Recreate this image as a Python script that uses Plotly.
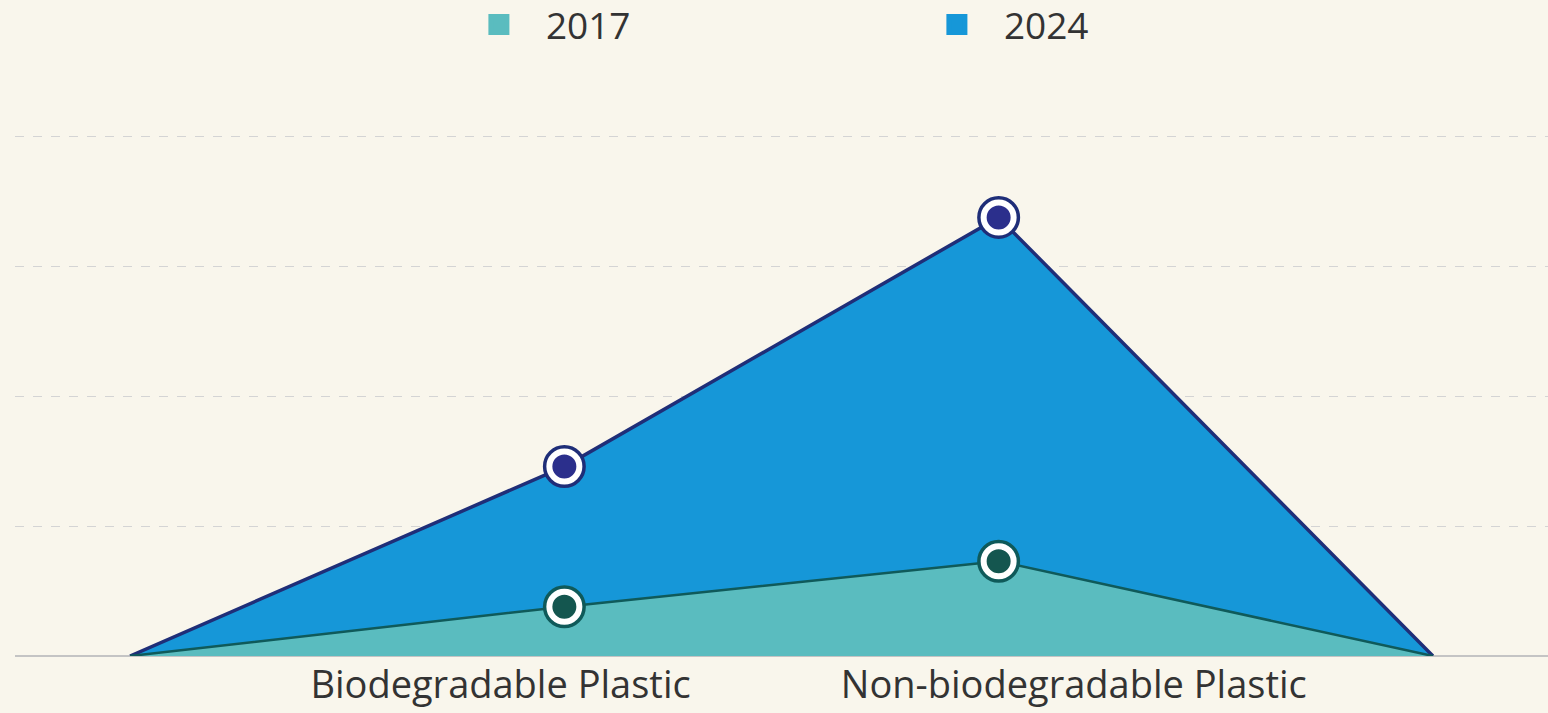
import plotly.graph_objects as go

x_pos = [0, 1, 2, 3]
tick_labels = ["Biodegradable Plastic", "Non-biodegradable Plastic"]
series_names = ["2017", "2024"]
values_2017 = [0, 0.38, 0.73, 0]
values_2024 = [0, 1.46, 3.38, 0]

fill_2017 = "#5abcbf"
line_2017 = "#0f5a5a"
dot_2017 = "#14564f"
fill_2024 = "#1697d8"
line_2024 = "#1f2e78"
dot_2024 = "#2b2f8c"
bg = "#f9f6ec"

fig = go.Figure()

# legend entries
fig.add_trace(go.Scatter(x=[None], y=[None], mode="markers", name=series_names[0],
                         marker=dict(symbol="square", size=16, color=fill_2017,
                                     line=dict(color=fill_2017, width=5))))
fig.add_trace(go.Scatter(x=[None], y=[None], mode="markers", name=series_names[1],
                         marker=dict(symbol="square", size=16, color=fill_2024,
                                     line=dict(color=fill_2024, width=5))))

# areas
fig.add_trace(go.Scatter(x=x_pos, y=values_2024, mode="lines", fill="tozeroy",
                         fillcolor=fill_2024, line=dict(color=line_2024, width=3.5),
                         showlegend=False, hoverinfo="skip"))
fig.add_trace(go.Scatter(x=x_pos, y=values_2017, mode="lines", fill="tozeroy",
                         fillcolor=fill_2017, line=dict(color=line_2017, width=2.5),
                         showlegend=False, hoverinfo="skip"))

# markers on the middle points
for vals, ring, dot in [(values_2024, line_2024, dot_2024), (values_2017, line_2017, dot_2017)]:
    fig.add_trace(go.Scatter(x=x_pos[1:3], y=vals[1:3], mode="markers",
                             marker=dict(size=41, color=ring, line=dict(color=ring, width=2)),
                             showlegend=False, hoverinfo="skip"))
    fig.add_trace(go.Scatter(x=x_pos[1:3], y=vals[1:3], mode="markers",
                             marker=dict(size=30, color=dot, line=dict(color="white", width=6)),
                             showlegend=False, hoverinfo="skip"))

fig.update_layout(
    width=1548, height=713,
    paper_bgcolor=bg, plot_bgcolor=bg,
    margin=dict(l=15, r=0, t=124, b=57, autoexpand=False),
    font=dict(family="Open Sans", color="#333333", size=38),
    showlegend=True,
    legend=dict(orientation="h", x=0.285, xanchor="left",
                yref="container", y=0.965, yanchor="middle",
                entrywidth=359, entrywidthmode="pixels", itemwidth=84,
                font=dict(size=37, color="#333333"), bgcolor="rgba(0,0,0,0)"),
    xaxis=dict(range=[-0.265, 3.265], tickvals=[0.853, 2.173], ticktext=tick_labels,
               showgrid=False, zeroline=False, showline=False, ticks="",
               ticklabelstandoff=3, automargin=False,
               tickfont=dict(size=38, color="#333333")),
    yaxis=dict(range=[0, 4.1], dtick=1, showticklabels=False, showgrid=True,
               gridcolor="#d4d4d4", griddash="dash", gridwidth=1,
               zeroline=True, zerolinecolor="#c4c4c4", zerolinewidth=2,
               showline=False, ticks="", automargin=False),
)

fig.write_html("out.html",
               config={"displayModeBar": False},
               post_script="document.body.style.margin='0';document.body.style.overflow='hidden';"
                           "document.body.style.background='%s';" % bg)
